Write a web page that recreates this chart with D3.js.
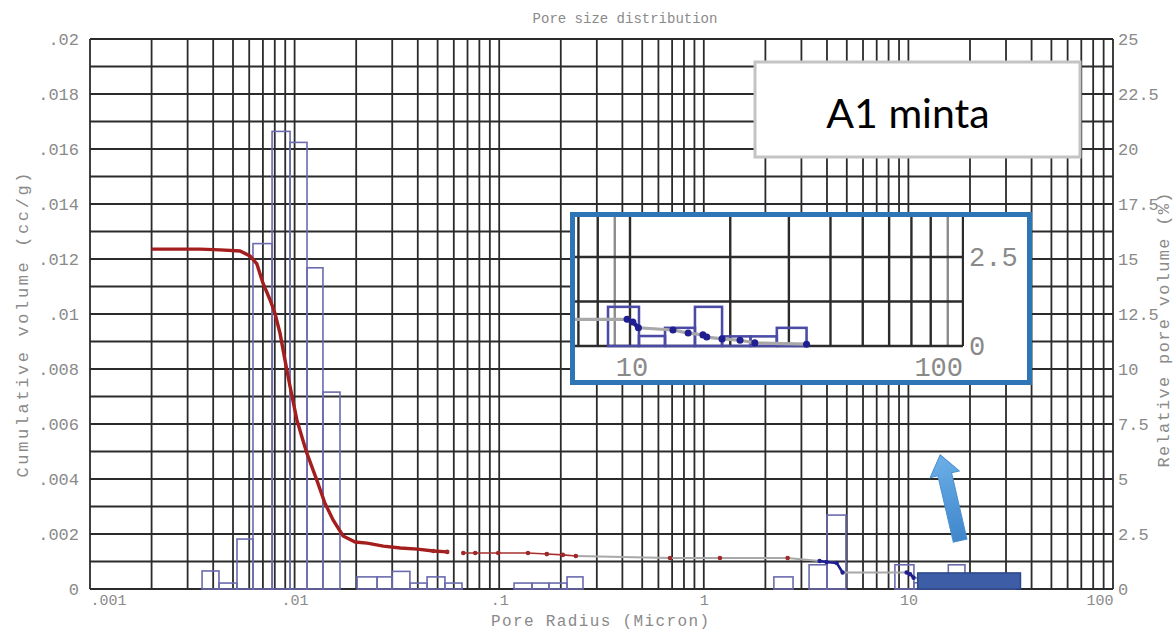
<!DOCTYPE html>
<html>
<head>
<meta charset="utf-8">
<script src="https://cdn.jsdelivr.net/npm/d3@7"></script>
<style>
  body { margin:0; background:#fff; }
  svg { display:block; }
</style>
</head>
<body>
<svg id="drawing_region"></svg>
<script>
// histogram: pore radius bins (micron) and relative pore volume (%)
const binFrom = [0.00353, 0.00427, 0.00523, 0.00626, 0.00776, 0.0095, 0.0115, 0.01376,
                 0.0202, 0.0253, 0.0299, 0.0366, 0.0444, 0.0543,
                 0.1182, 0.1446, 0.1751, 0.2145,
                 2.20, 3.27, 4.00, 8.59, 10.64, 12.74, 15.67, 18.9, 23.0, 27.6];
const binTo   = [0.00427, 0.00523, 0.00626, 0.00776, 0.0095, 0.0115, 0.01376, 0.01667,
                 0.0253, 0.0299, 0.0366, 0.0444, 0.0543, 0.0658,
                 0.1446, 0.1751, 0.2145, 0.2568,
                 2.73, 4.00, 4.95, 10.64, 12.74, 15.67, 18.9, 23.0, 27.6, 33.9];
const relVolume = [0.82, 0.27, 2.27, 15.7, 20.8, 20.3, 14.6, 8.95,
                   0.55, 0.55, 0.8, 0.27, 0.55, 0.27,
                   0.27, 0.27, 0.27, 0.55,
                   0.55, 1.1, 3.36, 1.1, 0.28, 0.51, 1.1, 0.27, 0.27, 0.51];

// cumulative volume curve (cc/g)
const poreRadius = [0.002, 0.00345, 0.00432, 0.00541, 0.00605, 0.00654, 0.0070, 0.00759, 0.00801,
                    0.00848, 0.00897, 0.00949, 0.01026, 0.01097, 0.01147, 0.01284, 0.01405, 0.01542,
                    0.01726, 0.01977, 0.02263, 0.02715, 0.03291, 0.03986, 0.04771, 0.05573,
                    0.06677, 0.07636, 0.09891, 0.13824, 0.1709, 0.2047, 0.2369,
                    0.6837, 1.1992, 2.5697, 3.68, 3.98, 4.46, 4.77, 9.8,
                    10.2, 10.6, 13.46, 14.95, 16.56, 17.0, 18.9, 21.4, 23.7, 33.9];
const cumVolume = [0.01236, 0.01236, 0.01233, 0.01229, 0.01211, 0.01182, 0.01113, 0.01051, 0.01004,
                   0.00931, 0.00833, 0.00738, 0.00615, 0.00542, 0.00495, 0.00396, 0.00313, 0.00251,
                   0.00193, 0.00171, 0.00167, 0.00156, 0.00149, 0.00145, 0.00138, 0.00135,
                   0.00131, 0.00131, 0.00131, 0.00131, 0.00127, 0.00124, 0.0012,
                   0.00113, 0.00113, 0.00113, 0.00102, 0.00098, 0.00095, 0.0006, 0.0006,
                   0.00054, 0.00041, 0.00036, 0.00029, 0.00025, 0.0002, 0.00016, 0.00013, 0.00007, 0.00004];

const xTicks = [0.001, 0.01, 0.1, 1, 10, 100];
const xTickLabels = [".001", ".01", ".1", "1", "10", "100"];
const yLeftTicks = [0, 0.002, 0.004, 0.006, 0.008, 0.01, 0.012, 0.014, 0.016, 0.018, 0.02];
const yLeftLabels = ["0", ".002", ".004", ".006", ".008", ".01", ".012", ".014", ".016", ".018", ".02"];
const yRightTicks = [0, 2.5, 5, 7.5, 10, 12.5, 15, 17.5, 20, 22.5, 25];
const yRightLabels = ["0", "2.5", "5", "7.5", "10", "12.5", "15", "17.5", "20", "22.5", "25"];
const insetXTicks = [10, 100];
const insetXLabels = ["10", "100"];
const insetYTicks = [0, 2.5];
const insetYLabels = ["0", "2.5"];

// annotations (data units)
const highlightFrom = 11.1, highlightTo = 35.3, highlightTop = 0.73;
const arrowTail = [17.9, 2.2], arrowTip = [14.3, 6.1];
const sampleName = "A1 minta";

class PoreChart {
    constructor(config) {
        this.config = config;
        this.init();
    }

    init() {
        let self = this;
        const c = self.config;
        self.svg = d3.select(c.parent).attr('width', c.width).attr('height', c.height);

        self.xscale = d3.scaleLog().domain([0.001, 100]).range([c.left, c.right]);
        self.yleft = d3.scaleLinear().domain([0, 0.02]).range([c.bottom, c.top]);
        self.yright = d3.scaleLinear().domain([0, 25]).range([c.bottom, c.top]);

        // inset: magnified view of 7..100 micron
        self.ix = d3.scaleLog().domain([10, 100]).range([630, 963]);
        self.iy = d3.scaleLinear().domain([0, 2.5]).range([346, 257]);
        self.iyleft = d3.scaleLinear().domain([0, 0.002]).range([346, 257]);

        const defs = self.svg.append('defs');
        defs.append('clipPath').attr('id', 'insetClip')
            .append('rect').attr('x', 575).attr('y', 215).attr('width', 389).attr('height', 133);
        const grad = defs.append('linearGradient').attr('id', 'arrowGrad')
            .attr('x1', 0).attr('x2', 1).attr('y1', 0).attr('y2', 0);
        grad.append('stop').attr('offset', '0%').attr('stop-color', '#3f86cc');
        grad.append('stop').attr('offset', '100%').attr('stop-color', '#6cb0e8');
    }

    gridValues(lo, hi) {
        let v = [];
        for (let d = lo; d < hi; d++)
            for (let k = 1; k < 10; k++) v.push(k * Math.pow(10, d));
        v.push(Math.pow(10, hi));
        return v;
    }

    render() {
        let self = this;
        const c = self.config;
        const mono = '"Liberation Mono", "DejaVu Sans Mono", monospace';
        const gridColor = '#2b2b2b';
        const barColor = '#6b6bae';

        // title
        self.svg.append('text').attr('x', 625).attr('y', 23)
            .attr('text-anchor', 'middle').attr('font-family', mono).attr('font-size', 14)
            .attr('fill', '#8a8a8a').text('Pore size distribution');

        // grid
        const grid = self.svg.append('g');
        grid.selectAll('line.gx').data(self.gridValues(-3, 2)).enter().append('line')
            .attr('x1', d => self.xscale(d)).attr('x2', d => self.xscale(d))
            .attr('y1', c.top).attr('y2', c.bottom)
            .attr('stroke', gridColor).attr('stroke-width', 1.8);
        grid.selectAll('line.gy').data(d3.range(0, 0.0201, 0.001)).enter().append('line')
            .attr('x1', c.left).attr('x2', c.right)
            .attr('y1', d => self.yleft(d)).attr('y2', d => self.yleft(d))
            .attr('stroke', gridColor).attr('stroke-width', 1.8);

        // axes labels
        const xaxis = d3.axisBottom(self.xscale).tickValues(xTicks)
            .tickFormat((d, i) => xTickLabels[i]).tickSize(0).tickPadding(5);
        const gx = self.svg.append('g').attr('transform', `translate(0,${c.bottom})`).call(xaxis);
        const yaxisL = d3.axisLeft(self.yleft).tickValues(yLeftTicks)
            .tickFormat((d, i) => yLeftLabels[i]).tickSize(0).tickPadding(11);
        const gyl = self.svg.append('g').attr('transform', `translate(${c.left},0)`).call(yaxisL);
        const yaxisR = d3.axisRight(self.yright).tickValues(yRightTicks)
            .tickFormat((d, i) => yRightLabels[i]).tickSize(0).tickPadding(5);
        const gyr = self.svg.append('g').attr('transform', `translate(${c.right},0)`).call(yaxisR);
        [gx, gyl, gyr].forEach(g => {
            g.select('.domain').remove();
            g.attr('font-family', mono).attr('font-size', 17);
            g.selectAll('text').attr('fill', '#8a8a8a');
        });
        gx.attr('font-size', 15);
        gx.selectAll('.tick text').filter((d, i) => i === 0).attr('text-anchor', 'start');
        gx.selectAll('.tick text').filter((d, i) => i === xTicks.length - 1).attr('text-anchor', 'end');

        self.svg.append('text').attr('x', 600).attr('y', 626).attr('text-anchor', 'middle')
            .attr('font-family', mono).attr('font-size', 16).attr('fill', '#8a8a8a')
            .attr('textLength', 218).attr('lengthAdjust', 'spacing')
            .text('Pore Radius (Micron)');
        self.svg.append('text').attr('transform', 'translate(28,325) rotate(-90)')
            .attr('text-anchor', 'middle').attr('font-family', mono).attr('font-size', 17)
            .attr('fill', '#8a8a8a').attr('textLength', 305).attr('lengthAdjust', 'spacing')
            .text('Cumulative volume (cc/g)');
        self.svg.append('text').attr('transform', 'translate(1169,330) rotate(-90)')
            .attr('text-anchor', 'middle').attr('font-family', mono).attr('font-size', 17)
            .attr('fill', '#8a8a8a').attr('textLength', 275).attr('lengthAdjust', 'spacing')
            .text('Relative pore volume (%)');

        const bars = binFrom.map((d, i) => ({ from: d, to: binTo[i], v: relVolume[i] }));
        const pts = poreRadius.map((d, i) => ({ r: d, v: cumVolume[i] }));

        self.drawSeries(self.svg.append('g'), bars, pts, self.xscale, self.yright, self.yleft, barColor, 1);

        // highlighted range
        self.svg.append('rect')
            .attr('x', self.xscale(highlightFrom)).attr('y', self.yright(highlightTop))
            .attr('width', self.xscale(highlightTo) - self.xscale(highlightFrom))
            .attr('height', self.yright(0) - self.yright(highlightTop))
            .attr('fill', '#3d5ea6').attr('stroke', '#2c4786').attr('stroke-width', 1.5);

        // arrow
        const tx = self.xscale(arrowTail[0]), ty = self.yright(arrowTail[1]);
        const hx = self.xscale(arrowTip[0]), hy = self.yright(arrowTip[1]);
        const len = Math.hypot(hx - tx, hy - ty);
        const ang = Math.atan2(hy - ty, hx - tx) * 180 / Math.PI;
        self.svg.append('path')
            .attr('d', `M0,-7 L${len - 20},-7 L${len - 20},-15 L${len},0 L${len - 20},15 L${len - 20},7 L0,7 Z`)
            .attr('transform', `translate(${tx},${ty}) rotate(${ang})`)
            .attr('fill', 'url(#arrowGrad)').attr('stroke', '#4a90d0').attr('stroke-width', 1);

        // inset
        const box = { x: 572.5, y: 214.5, w: 457, h: 168 };
        self.svg.append('rect').attr('x', box.x).attr('y', box.y).attr('width', box.w).attr('height', box.h)
            .attr('fill', '#fff');
        const ig = self.svg.append('g').attr('clip-path', 'url(#insetClip)');
        ig.selectAll('line.ix').data(self.gridValues(0, 2).filter(d => d >= 7)).enter().append('line')
            .attr('x1', d => self.ix(d)).attr('x2', d => self.ix(d))
            .attr('y1', 200).attr('y2', self.iy(0))
            .attr('stroke', d => (d === 9 || d === 90) ? '#8c8c8c' : gridColor).attr('stroke-width', 2.4);
        ig.selectAll('line.iy').data([0, 1.25, 2.5, 3.75]).enter().append('line')
            .attr('x1', 560).attr('x2', self.ix(100))
            .attr('y1', d => self.iy(d)).attr('y2', d => self.iy(d))
            .attr('stroke', gridColor).attr('stroke-width', 2.4);
        self.drawSeries(ig, bars.filter(b => b.to > 7), pts.filter(p => p.r > 4), self.ix, self.iy, self.iyleft, '#4b4ba6', 1.6);

        self.svg.selectAll('text.ixl').data(insetXTicks).enter().append('text')
            .attr('x', (d, i) => i === insetXTicks.length - 1 ? self.ix(d) : self.ix(d) + 2)
            .attr('y', 376)
            .attr('text-anchor', (d, i) => i === insetXTicks.length - 1 ? 'end' : 'middle')
            .attr('font-family', mono).attr('font-size', 27).attr('fill', '#8a8a8a')
            .text((d, i) => insetXLabels[i]);
        self.svg.selectAll('text.iyl').data(insetYTicks).enter().append('text')
            .attr('x', 969).attr('y', d => self.iy(d) + 9)
            .attr('font-family', mono).attr('font-size', 27).attr('fill', '#8a8a8a')
            .text((d, i) => insetYLabels[i]);
        self.svg.append('rect').attr('x', box.x).attr('y', box.y).attr('width', box.w).attr('height', box.h)
            .attr('fill', 'none').attr('stroke', '#2e75b6').attr('stroke-width', 5);

        // sample name box
        self.svg.append('rect').attr('x', 755).attr('y', 62).attr('width', 325).attr('height', 95)
            .attr('fill', '#fff').attr('stroke', '#c4c4c4').attr('stroke-width', 3);
        self.svg.append('text').attr('x', 908).attr('y', 128).attr('text-anchor', 'middle')
            .attr('font-family', 'Lato, "Open Sans", sans-serif').attr('font-size', 41)
            .attr('fill', '#000').text(sampleName);
    }

    drawSeries(g, bars, pts, xs, ys, ycum, barColor, k) {
        g.selectAll('rect.bar').data(bars).enter().append('rect')
            .attr('x', d => xs(d.from)).attr('y', d => ys(d.v))
            .attr('width', d => xs(d.to) - xs(d.from)).attr('height', d => ys(0) - ys(d.v))
            .attr('fill', 'none').attr('stroke', barColor).attr('stroke-width', 1.6 * k);

        const line = d3.line().x(d => xs(d.r)).y(d => ycum(d.v));
        g.append('path').datum(pts.filter(p => p.r >= 0.2369))
            .attr('d', line).attr('fill', 'none').attr('stroke', '#a8a8a8').attr('stroke-width', 2 * k);
        g.append('path').datum(pts.filter(p => p.r <= 0.0558))
            .attr('d', line).attr('fill', 'none').attr('stroke', '#a51e1e').attr('stroke-width', 3.4 * k);
        g.append('path').datum(pts.filter(p => p.r >= 0.0558 && p.r <= 0.2369))
            .attr('d', line).attr('fill', 'none').attr('stroke', '#a83030').attr('stroke-width', 1.6 * k);
        g.selectAll('circle.red').data(pts.filter(p => p.r >= 0.04 && p.r < 3)).enter().append('circle')
            .attr('cx', d => xs(d.r)).attr('cy', d => ycum(d.v)).attr('r', 2.3 * k).attr('fill', '#a02828');
        g.append('path').datum(pts.filter(p => p.r >= 3.6 && p.r <= 4.8))
            .attr('d', line).attr('fill', 'none').attr('stroke', '#1f1f8f').attr('stroke-width', 2.6 * k);
        g.append('path').datum(pts.filter(p => p.r >= 9.8 && p.r <= 10.7))
            .attr('d', line).attr('fill', 'none').attr('stroke', '#1f1f8f').attr('stroke-width', 2.6 * k);
        g.selectAll('circle.blue').data(pts.filter(p => p.r >= 3.6)).enter().append('circle')
            .attr('cx', d => xs(d.r)).attr('cy', d => ycum(d.v)).attr('r', 2.2 * k).attr('fill', '#1f1f8f');
    }
}

const chart = new PoreChart({
    parent: '#drawing_region', width: 1175, height: 630,
    left: 90, right: 1113, top: 39, bottom: 589
});
chart.render();
</script>
</body>
</html>
